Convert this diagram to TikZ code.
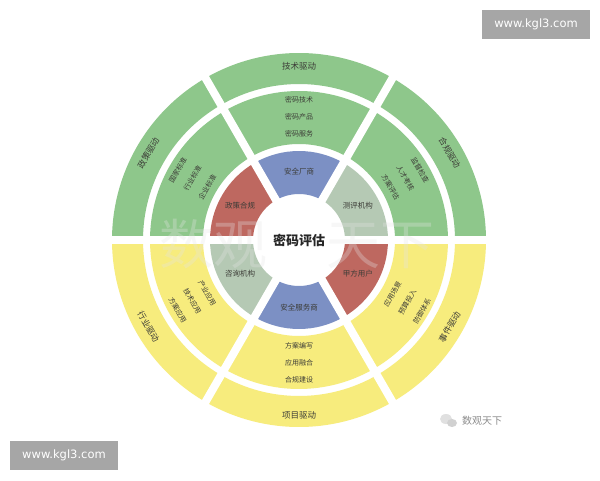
\documentclass[tikz,border=0pt]{standalone}
\usepackage{fontspec}
\setmainfont{Noto Sans CJK SC}
\newfontfamily\wmfont{DejaVu Sans}
\definecolor{cgreen}{RGB}{142,199,139}
\definecolor{cyellow}{RGB}{247,236,125}
\definecolor{cblue}{RGB}{124,144,196}
\definecolor{cred}{RGB}{190,104,96}
\definecolor{cgray}{RGB}{181,201,180}
\definecolor{labc}{RGB}{60,60,55}
\definecolor{wmgray}{RGB}{166,166,166}
\begin{document}
\begin{tikzpicture}[x=1pt,y=1pt,
  ilab/.style={font=\fontsize{7.5}{8}\selectfont, text=labc, inner sep=0pt},
  mlab/.style={font=\fontsize{7}{8}\selectfont, text=labc, inner sep=0pt},
  olab/.style={font=\fontsize{8.5}{9}\selectfont, text=labc, inner sep=0pt},
  wmbox/.style={fill=wmgray, text=white, font=\wmfont\fontsize{11.5}{12}\selectfont, minimum width=108pt, minimum height=29pt, inner sep=0pt},
  gapline/.style={white, line width=8pt}
]
\useasboundingbox (0,0) rectangle (600,480);
\fill[white] (0,0) rectangle (600,480);
\begin{scope}[shift={(299,240)}]
  % sectors
  \foreach \a/\ci/\cm in {0/cgray/cgreen, 60/cblue/cgreen, 120/cred/cgreen, 180/cgray/cyellow, 240/cblue/cyellow, 300/cred/cyellow}{
    \fill[\ci] (\a:46) arc[start angle=\a, end angle={\a+60}, radius=46] -- ({\a+60}:89) arc[start angle={\a+60}, end angle=\a, radius=89] -- cycle;
    \fill[\cm] (\a:96) arc[start angle=\a, end angle={\a+60}, radius=96] -- ({\a+60}:149) arc[start angle={\a+60}, end angle=\a, radius=149] -- cycle;
    \fill[\cm] (\a:156) arc[start angle=\a, end angle={\a+60}, radius=156] -- ({\a+60}:187) arc[start angle={\a+60}, end angle=\a, radius=187] -- cycle;
  }
  \foreach \a in {0,60,...,300}{
    \draw[gapline] (0,0) -- (\a:192);
  }
  \fill[white] (0,0) circle[radius=44];
  % watermark
  \node[font=\fontsize{54}{56}\selectfont, text=white!80!gray, opacity=0.3, inner sep=0pt] (wm) at (-2,-4) {数观\hspace{60pt}天下};
  % center
  \node[font=\fontsize{13}{14}\selectfont\bfseries, text=black!85, inner sep=0pt] (ctr) at (0,0) {密码评估};
  % inner labels
  \node[ilab] (i1) at (90:68) {安全厂商};
  \node[ilab] (i2) at (30:68) {测评机构};
  \node[ilab] (i3) at (330:68) {甲方用户};
  \node[ilab] (i4) at (270:68) {安全服务商};
  \node[ilab] (i5) at (210:68) {咨询机构};
  \node[ilab] (i6) at (150:68) {政策合规};
  % middle labels
  \node[mlab] (m1a) at (90:140) {密码技术};
  \node[mlab] (m1b) at (90:123) {密码产品};
  \node[mlab] (m1c) at (90:106) {密码服务};
  \node[mlab, rotate=60] (m2a) at (150:140) {国家标准};
  \node[mlab, rotate=60] (m2b) at (150:123) {行业标准};
  \node[mlab, rotate=60] (m2c) at (150:106) {企业标准};
  \node[mlab, rotate=-60] (m3a) at (30:140) {监督检查};
  \node[mlab, rotate=-60] (m3b) at (30:123) {人才考核};
  \node[mlab, rotate=-60] (m3c) at (30:106) {方案评估};
  \node[mlab, rotate=-60] (m4a) at (210:106) {产业应用};
  \node[mlab, rotate=-60] (m4b) at (210:123) {技术应用};
  \node[mlab, rotate=-60] (m4c) at (210:140) {方案应用};
  \node[mlab] (m5a) at (270:106) {方案编写};
  \node[mlab] (m5b) at (270:123) {应用融合};
  \node[mlab] (m5c) at (270:140) {合规建设};
  \node[mlab, rotate=60] (m6a) at (330:108) {应用场景};
  \node[mlab, rotate=60] (m6b) at (330:125) {预算投入};
  \node[mlab, rotate=60] (m6c) at (330:142) {防御体系};
  % outer labels
  \node[olab] (o1) at (90:174) {技术驱动};
  \node[olab, rotate=60] (o2) at (150:174) {政策驱动};
  \node[olab, rotate=-60] (o3) at (30:174) {合规驱动};
  \node[olab, rotate=-60] (o4) at (210:174) {行业驱动};
  \node[olab] (o5) at (270:175) {项目驱动};
  \node[olab, rotate=60] (o6) at (330:174) {事件驱动};
\end{scope}
% site watermarks
\node[wmbox] (w1) at (536,455.5) {www.kgl3.com};
\node[wmbox] (w2) at (64,25) {www.kgl3.com};
% small logo
\fill[black!12] (446,61) ellipse[x radius=6, y radius=5];
\fill[black!18] (452,57) ellipse[x radius=5, y radius=4];
\node[font=\fontsize{10}{11}\selectfont, text=black!45, inner sep=0pt] (logo) at (482,59) {数观天下};
\end{tikzpicture}
\end{document}
